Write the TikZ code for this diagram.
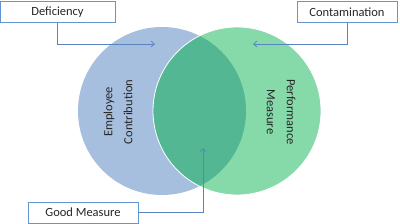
\documentclass[tikz,border=0pt]{standalone}
\usepackage{fontspec}
\setmainfont{Carlito}
\usepackage{xcolor}
\usetikzlibrary{arrows.meta,positioning,calc}
\definecolor{SoftBlue}{HTML}{A7BFDE}
\definecolor{SoftGreen}{HTML}{86D9A8}
\definecolor{MixGreen}{HTML}{53B794}
\definecolor{Frame}{HTML}{6495D3}
\definecolor{Lead}{HTML}{5A84C0}
\definecolor{Ink}{HTML}{262626}

\begin{document}
\begin{tikzpicture}[
  x=1pt,y=-1pt,
  label/.style={draw=Frame,line width=0.8pt,fill=white,minimum height=21pt,inner sep=0pt,
    font=\fontsize{12.5}{15}\selectfont,text=Ink},
  lead/.style={-{Straight Barb[length=3.5pt,width=6pt]},line width=0.7pt,color=Lead},
  set/.style={circle,minimum size=168pt,inner sep=0pt},
  tag/.style={align=center,font=\fontsize{12.5}{20}\selectfont,text=Ink}
]
\useasboundingbox (0,0) rectangle (400,224);
% the two sets
\node[set,fill=SoftBlue] (emp) at (162,111) {};
\node[set,fill=SoftGreen] (perf) at (237,111) {};
\begin{scope}
  \clip (emp.center) circle (84pt);
  \fill[MixGreen] (perf.center) circle (84pt);
\end{scope}
\draw[white,line width=0.8pt] (perf.center) circle (84pt);
\node[tag,rotate=90] (empT) at (118,112) {Employee\\Contribution};
\node[tag,rotate=-90] (perfT) at (281,112) {Performance\\Measure};
% callouts
\node[label,minimum width=115pt] (defi) at (57.5,12) {Deficiency};
\node[label,minimum width=100pt] (cont) at (347,12) {Contamination};
\node[label,minimum width=110pt] (good) at (83,212.5) {Good Measure};
\coordinate (defiEnd) at (155,44);
\coordinate (contEnd) at (253,44);
\coordinate (goodEnd) at (203,148);
\draw[lead] (defi.south) |- (defiEnd);
\draw[lead] (cont.south) |- (contEnd);
\draw[lead] (good.east) -| (goodEnd);
\end{tikzpicture}
\end{document}
